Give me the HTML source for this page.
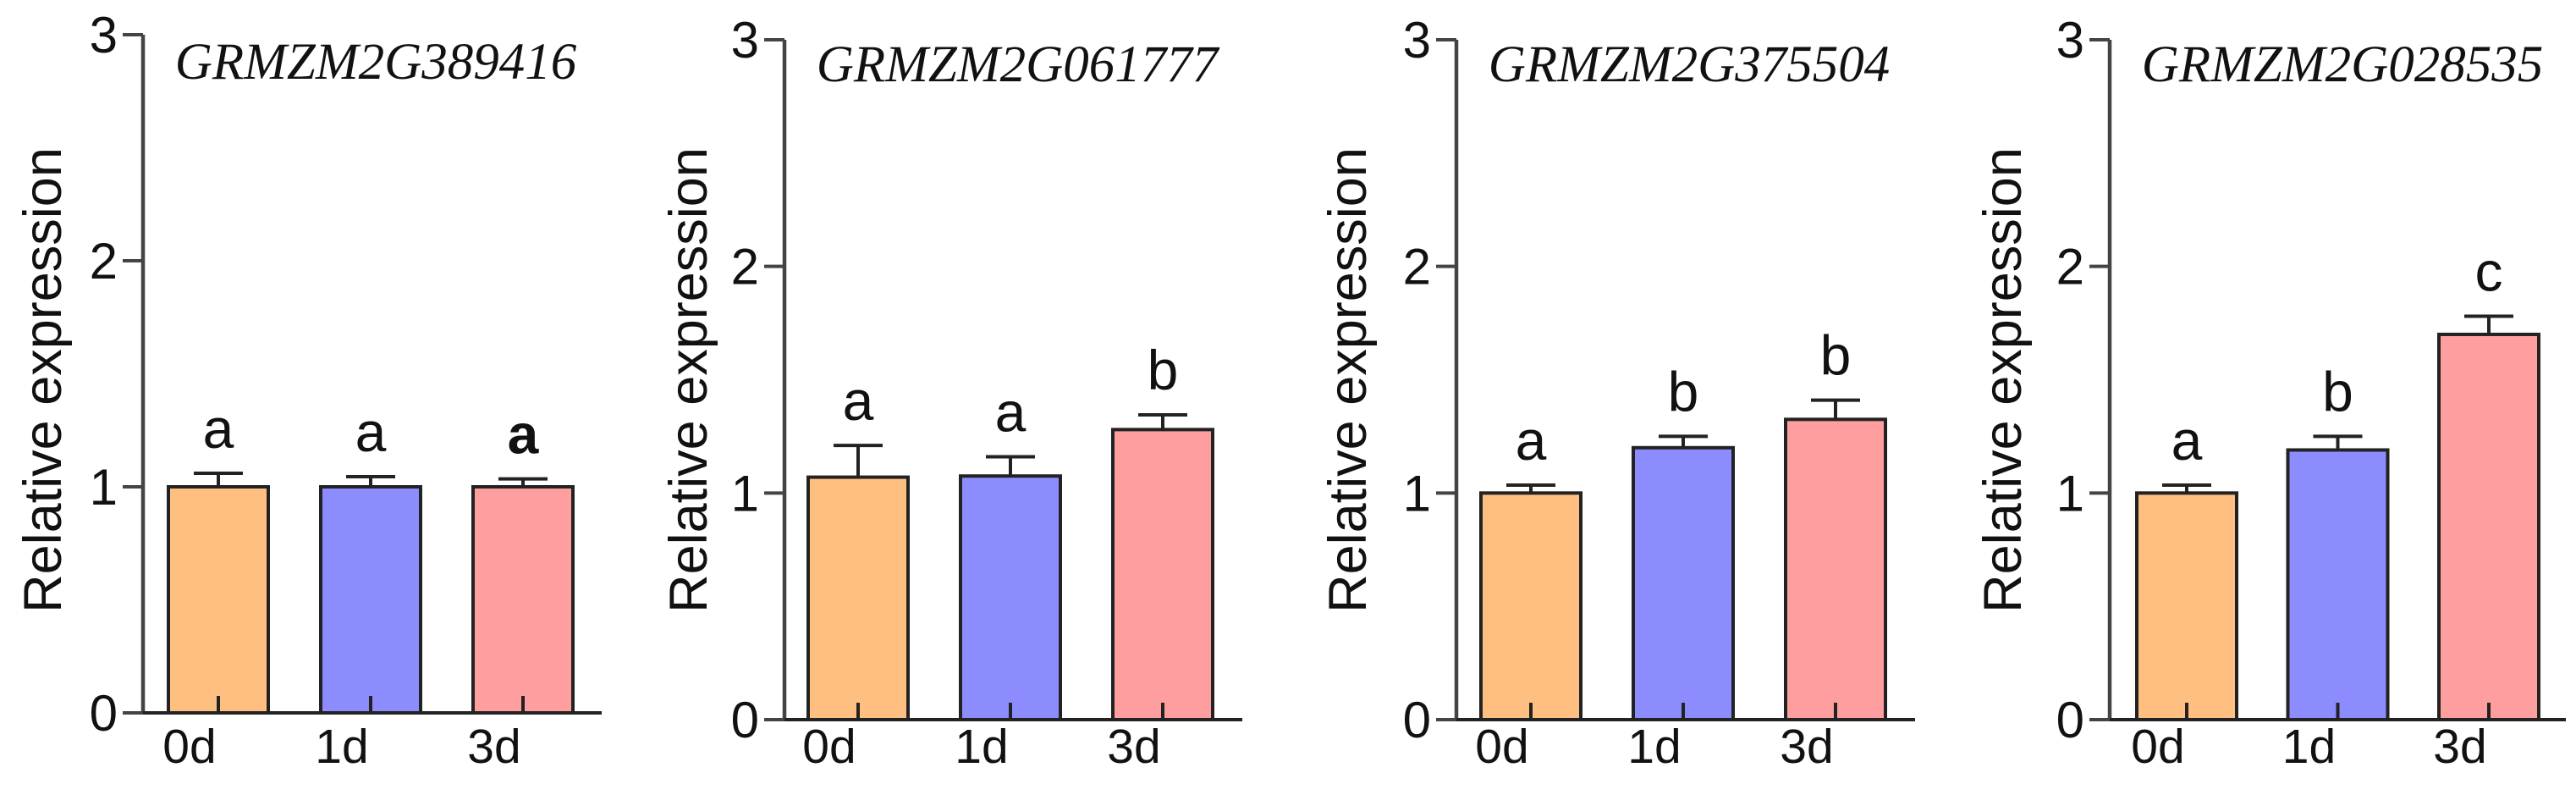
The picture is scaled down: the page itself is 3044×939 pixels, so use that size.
<!DOCTYPE html>
<html><head><meta charset="utf-8"><style>
html,body{margin:0;padding:0;background:#fff;}
svg{display:block;}
</style></head><body>
<svg id="chart" width="3044" height="939" viewBox="0 0 3044 939" xmlns="http://www.w3.org/2000/svg"></svg>
<script>
const categories = ["0d","1d","3d"];
const genes = ["GRMZM2G389416","GRMZM2G061777","GRMZM2G375504","GRMZM2G028535"];
const values1 = [1.00, 1.00, 1.00];
const errors1 = [0.06, 0.045, 0.035];
const letters1 = ["a","a","a"];
const values2 = [1.07, 1.075, 1.28];
const errors2 = [0.14, 0.085, 0.065];
const letters2 = ["a","a","b"];
const values3 = [1.00, 1.20, 1.325];
const errors3 = [0.035, 0.05, 0.085];
const letters3 = ["a","b","b"];
const values4 = [1.00, 1.19, 1.70];
const errors4 = [0.035, 0.06, 0.08];
const letters4 = ["a","b","c"];
const yTicks = [0,1,2,3];
const allValues = [values1, values2, values3, values4];
const allErrors = [errors1, errors2, errors3, errors4];
const allLetters = [letters1, letters2, letters3, letters4];

const colors = ["#FFBF80","#8C8CFF","#FF9E9E"];
const panels = [
  {axisX:169, zeroY:842, topY:41, barLeft:199, step:180, axisEnd:711, labelDx:-118},
  {axisX:927, zeroY:850, topY:47, barLeft:955, step:180, axisEnd:1468, labelDx:-113},
  {axisX:1721, zeroY:850, topY:47, barLeft:1750, step:180, axisEnd:2263, labelDx:-128},
  {axisX:2493, zeroY:850, topY:47, barLeft:2525, step:178.5, axisEnd:3032, labelDx:-126}
];
const barW = 118;
const NS = "http://www.w3.org/2000/svg";
const svg = document.getElementById("chart");
function mk(tag, attrs, parent){
  const e = document.createElementNS(NS, tag);
  for (const k in attrs) e.setAttribute(k, attrs[k]);
  (parent||svg).appendChild(e);
  return e;
}
panels.forEach((p, pi) => {
  const g = mk("g", {});
  
  
  const yMax = 3;
  const y = v => p.zeroY - (p.zeroY - p.topY) * v / yMax;
  const xc = i => p.barLeft + barW/2 + i * p.step;
  allValues[pi].forEach((v, i) => {
    const r = mk("rect", {x: xc(i)-barW/2, y: y(v), width: barW, height: p.zeroY - y(v), fill: colors[i], stroke:"#222", "stroke-width":4}, g);
    
    
    const e = allErrors[pi][i];
    const eg = mk("g", {stroke:"#222", "stroke-width":4}, g);
    
    
    mk("line", {x1:xc(i), x2:xc(i), y1:y(v), y2:y(v+e)}, eg);
    mk("line", {x1:xc(i)-29, x2:xc(i)+29, y1:y(v+e), y2:y(v+e)}, eg);
    mk("line", {x1:xc(i), x2:xc(i), y1:p.zeroY, y2:p.zeroY-20}, eg);
    const t = mk("text", {x:xc(i), y:y(v+e)-30, "text-anchor":"middle", "font-family":"Liberation Sans, sans-serif", "font-size":66, fill:"#111", "font-weight": (pi===0&&i===2)?"bold":"normal"}, g);
    t.textContent = allLetters[pi][i];
    
    
    const xl = mk("text", {x:xc(i)-34, y:901, "text-anchor":"middle", "font-family":"Liberation Sans, sans-serif", "font-size":57, fill:"#111"}, g);
    xl.textContent = categories[i];
    
    
  });
  const ya = mk("line", {x1:p.axisX, x2:p.axisX, y1:p.topY, y2:p.zeroY+2, stroke:"#444", "stroke-width":4.5}, g);
  
  
  const xa = mk("line", {x1:p.axisX-24, x2:p.axisEnd, y1:p.zeroY, y2:p.zeroY, stroke:"#222", "stroke-width":4}, g);
  
  
  yTicks.forEach(tv => {
    mk("line", {x1:p.axisX-24, x2:p.axisX, y1:y(tv), y2:y(tv), stroke:"#444", "stroke-width":4}, g);
    const tl = mk("text", {x:p.axisX-30, y:y(tv)+21, "text-anchor":"end", "font-family":"Liberation Sans, sans-serif", "font-size":60, fill:"#111"}, g);
    tl.textContent = tv;
    
    
  });
  const lx = p.axisX + p.labelDx, ly = 449;
  const yl = mk("text", {x:lx, y:ly, "text-anchor":"middle", "dominant-baseline":"central", transform:`rotate(-90 ${lx} ${ly})`, "font-family":"Liberation Sans, sans-serif", "font-size":63, fill:"#111"}, g);
  yl.textContent = "Relative expression";
  
  
  const tt = mk("text", {x:p.axisX + 275, y: pi===0?93:96, "text-anchor":"middle", "font-family":"Liberation Serif, serif", "font-style":"italic", "font-size":61, fill:"#111"}, g);
  tt.textContent = genes[pi];
  
  
});
</script>
</body></html>
